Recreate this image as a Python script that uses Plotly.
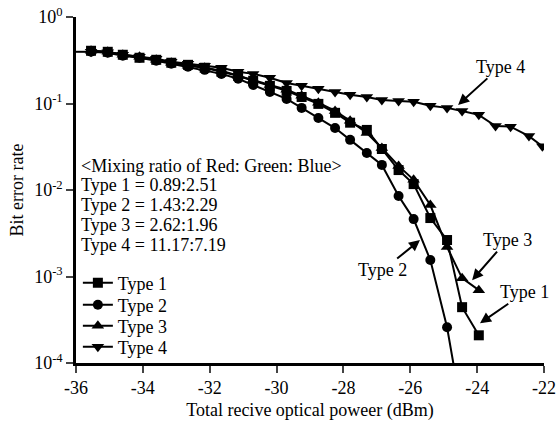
import plotly.graph_objects as go

# Received optical power (dBm)
power = [-35.55, -35.05, -34.6, -34.1, -33.6, -33.15, -32.65, -32.15, -31.65, -31.15,
         -30.7, -30.2, -29.7, -29.25, -28.75, -28.25, -27.8, -27.3, -26.85, -26.35,
         -25.9, -25.4, -24.9, -24.45, -23.95, -23.45, -23.0, -22.45, -22.05]

ber_type1 = [0.407, 0.396, 0.366, 0.338, 0.320, 0.296, 0.280, 0.259, 0.233, 0.209,
             0.183, 0.160, 0.140, 0.119, 0.099, 0.078, 0.060, 0.0495, 0.0298, 0.0170,
             0.0117, 0.00474, 0.00264, 0.000442, 0.000209]
ber_type2 = [0.396, 0.386, 0.356, 0.338, 0.312, 0.288, 0.266, 0.245, 0.220, 0.193,
             0.164, 0.136, 0.113, 0.089, 0.068, 0.052, 0.038, 0.0268, 0.0195, 0.00852,
             0.00461, 0.00155, 0.000259, 0.0000262]
ber_type3 = [0.407, 0.396, 0.366, 0.347, 0.320, 0.296, 0.273, 0.259, 0.239, 0.209,
             0.188, 0.164, 0.144, 0.123, 0.102, 0.082, 0.063, 0.0457, 0.0306, 0.0190,
             0.0131, 0.00670, 0.00219, 0.000957, 0.000695]
ber_type4 = [0.396, 0.390, 0.366, 0.347, 0.329, 0.304, 0.288, 0.273, 0.259, 0.233,
             0.220, 0.198, 0.173, 0.160, 0.148, 0.136, 0.126, 0.119, 0.110, 0.107,
             0.105, 0.094, 0.089, 0.082, 0.074, 0.055, 0.054, 0.042, 0.032]

series_names = ["Type 1", "Type 2", "Type 3", "Type 4"]
x_ticks = [-36, -34, -32, -30, -28, -26, -24, -22]
x_ticktext = ["-36", "-34", "-32", "-30", "-28", "-26", "-24", "-22"]
y_tickvals = [1, 0.1, 0.01, 0.001, 0.0001]
y_ticktext = ["10<sup>0</sup>", "10<sup>-1</sup>", "10<sup>-2</sup>", "10<sup>-3</sup>", "10<sup>-4</sup>"]
x_min, x_max = -36, -22

info_lines = ["&lt;Mixing ratio of Red: Green: Blue&gt;",
              "Type 1 = 0.89:2.51",
              "Type 2 = 1.43:2.29",
              "Type 3 = 2.62:1.96",
              "Type 4 = 11.17:7.19"]

FONT = "Liberation Serif, Times New Roman, serif"
FS = 18
symbols = ["square", "circle", "triangle-up", "triangle-down"]
sizes = [10, 10, 11, 11]
data = [ber_type1, ber_type2, ber_type3, ber_type4]
legend_ids = ["legend", "legend2", "legend3", "legend4"]
legend_y = [0.2312, 0.1676, 0.1069, 0.0462]

fig = go.Figure()

# lead-in segment from the axis to the first measured point
fig.add_trace(go.Scatter(x=[x_min, power[0]], y=[ber_type4[0], ber_type4[0]], mode="lines",
                         line=dict(color="black", width=2), showlegend=False, hoverinfo="skip"))

for name, sym, sz, vals, lg in zip(series_names, symbols, sizes, data, legend_ids):
    fig.add_trace(go.Scatter(
        x=power[:len(vals)], y=vals, name=name, mode="lines+markers",
        line=dict(color="black", width=2),
        marker=dict(symbol=sym, size=sz, color="black"),
        legend=lg,
    ))

info_y = [0.5694, 0.5145, 0.4566, 0.3988, 0.3410]
for line, yy in zip(info_lines, info_y):
    fig.add_annotation(xref="paper", yref="paper", x=0.006, y=yy, xanchor="left", yanchor="middle",
                       text=line, showarrow=False, align="left",
                       font=dict(family=FONT, size=FS, color="black"))

arrow_labels = [
    ("Type 4", -24.57, -1.016, 42, -38),
    ("Type 2", -25.71, -2.579, -37, 30),
    ("Type 3", -24.15, -3.042, 35, -40),
    ("Type 1", -23.915, -3.54, 45, -31),
]
for txt, ax_x, ax_y, dx, dy in arrow_labels:
    fig.add_annotation(x=ax_x, y=ax_y, xref="x", yref="y", text=txt, showarrow=True,
                       ax=dx, ay=dy, arrowhead=2, arrowsize=1.1, arrowwidth=2,
                       arrowcolor="black", font=dict(family=FONT, size=FS, color="black"))

legend_common = dict(x=0.004, xanchor="left", yanchor="middle", bgcolor="rgba(0,0,0,0)",
                     font=dict(family=FONT, size=FS, color="black"), itemwidth=30)
layout_legends = {lg: dict(y=yy, **legend_common) for lg, yy in zip(legend_ids, legend_y)}

fig.update_layout(
    width=557, height=421,
    margin=dict(l=76, r=13, t=17, b=58),
    paper_bgcolor="white", plot_bgcolor="white",
    font=dict(family=FONT, size=FS, color="black"),
    showlegend=True,
    **layout_legends,
    xaxis=dict(range=[x_min, x_max], tickvals=x_ticks, ticktext=x_ticktext, ticks="outside",
               ticklen=7, tickwidth=2, automargin=False, ticklabeloverflow="allow",
               showline=True, linewidth=2.5, linecolor="black", showgrid=False, zeroline=False,
               tickfont=dict(family=FONT, size=FS),
               title=dict(text="Total recive optical poweer (dBm)", font=dict(family=FONT, size=FS), standoff=10)),
    yaxis=dict(type="log", range=[-4, 0], tickvals=y_tickvals, ticktext=y_ticktext,
               ticks="outside", ticklen=7, tickwidth=2, automargin=False, ticklabeloverflow="allow",
               showline=True, linewidth=2.5, linecolor="black", showgrid=False, zeroline=False,
               tickfont=dict(family=FONT, size=FS),
               title=dict(text="Bit error rate", font=dict(family=FONT, size=FS), standoff=6)),
)

# remove the default page margin so the figure fills the window exactly
fig.write_html("out.html", config={"displayModeBar": False},
               post_script="document.body.style.margin='0';document.body.style.overflow='hidden';")
